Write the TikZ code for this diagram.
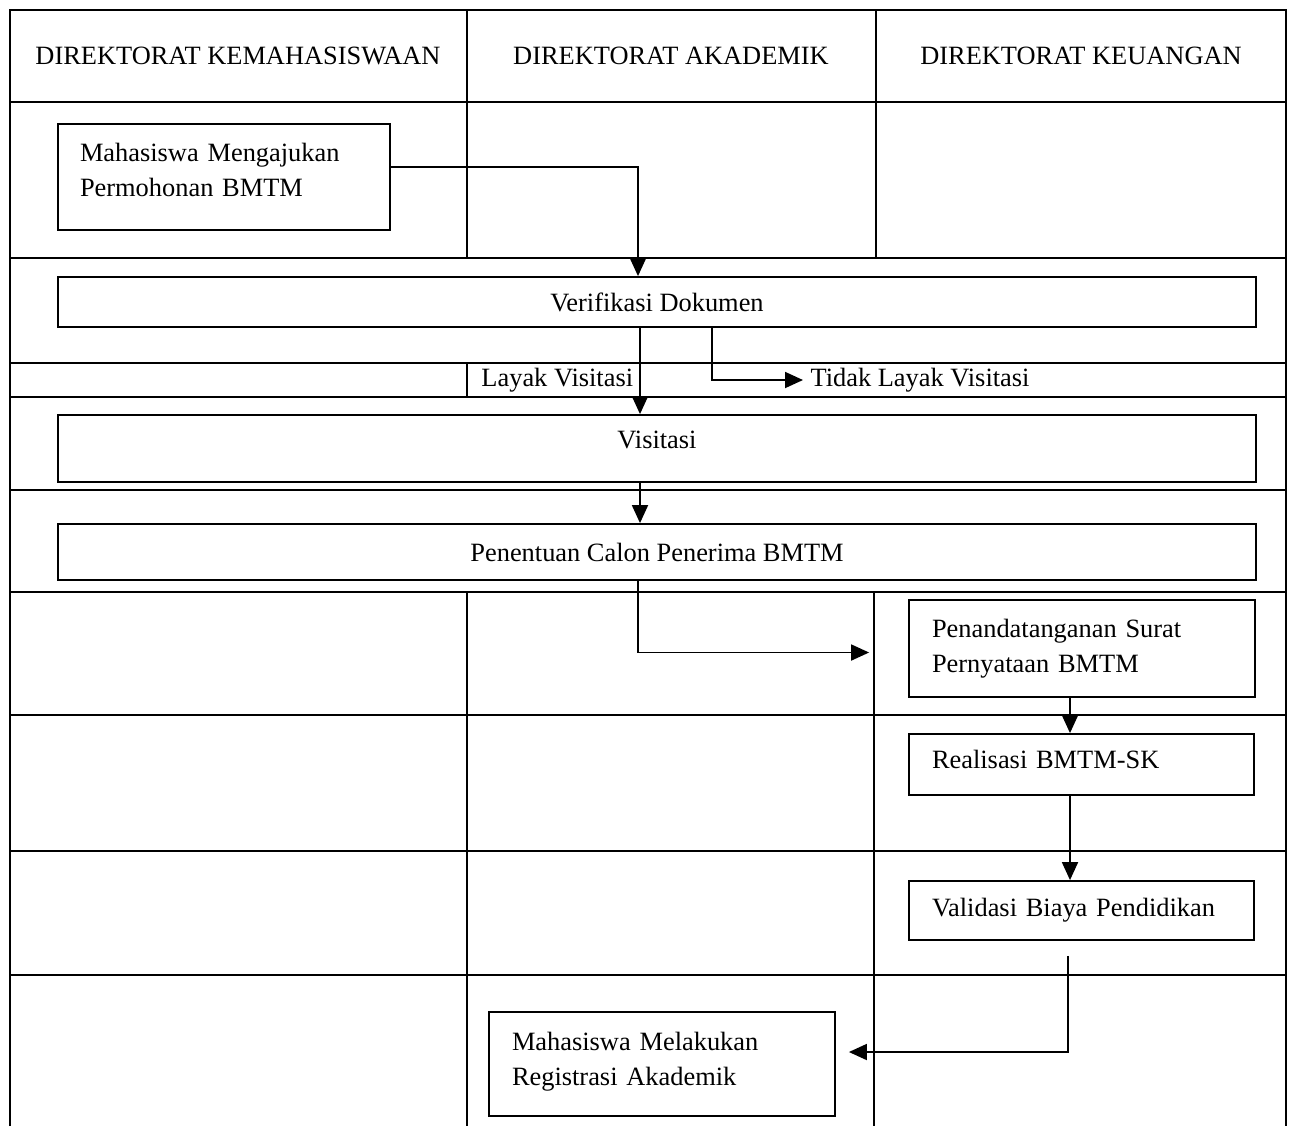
\documentclass[tikz,border=0pt]{standalone}
\usepackage{fontspec}
\setmainfont{Liberation Serif}
\usetikzlibrary{arrows.meta}
\begin{document}
\begin{tikzpicture}[x=0.5pt,y=-0.5pt,line width=0.9pt,
	every node/.style={font=\fontsize{13.2}{17.5}\selectfont},
	box/.style={draw,line width=0.9pt,inner sep=0pt},
	lbox/.style={box,align=left,inner xsep=11.5pt},
	arr/.style={-{Triangle[length=9pt,width=8pt]}}]
	\useasboundingbox (0,0) rectangle (1290,1126);
	% tabel
	\draw (10,1126)--(10,10)--(1286,10)--(1286,1126);
	\foreach \y in {102,258,363,397,490,592,715,851,975}
		\draw (10,\y)--(1286,\y);
	\draw (467,10)--(467,258) (876,10)--(876,258);
	\draw (467,363)--(467,397);
	\draw (467,592)--(467,1126) (874,592)--(874,1126);
	\node (kmhs) at (238,56) {DIREKTORAT KEMAHASISWAAN};
	\node (akad) at (671,56) {DIREKTORAT AKADEMIK};
	\node (keu) at (1081,56) {DIREKTORAT KEUANGAN};
	% proses
	\node[lbox,inner xsep=11pt,text width=144pt,minimum height=53pt,text depth=25pt] (ajukan) at (224,177) {Mahasiswa Mengajukan\\Permohonan BMTM};
	\node[box,minimum width=599pt,minimum height=25pt] (verif) at (657,302) {Verifikasi Dokumen};
	\node[box,minimum width=599pt,minimum height=33.5pt,text depth=9pt] (visit) at (657,448.5) {Visitasi};
	\node[box,minimum width=599pt,minimum height=28pt] (calon) at (657,552) {Penentuan Calon Penerima BMTM};
	\node[lbox,text width=150pt,minimum height=48.5pt] (ttd) at (1082,648.5) {Penandatanganan Surat\\Pernyataan BMTM};
	\node[lbox,text width=149.5pt,minimum height=30.5pt,text depth=5pt] (real) at (1081.5,764.5) {Realisasi BMTM-SK};
	\node[lbox,text width=149.5pt,minimum height=29.5pt] (valid) at (1081.5,910.5) {Validasi Biaya Pendidikan};
	\node[lbox,text width=150pt,minimum height=52pt,text depth=23pt] (regis) at (662,1064) {Mahasiswa Melakukan\\Registrasi Akademik};
	\node[anchor=east,inner xsep=1pt] (layak) at (636,380) {Layak Visitasi};
	\node[anchor=west] (tidak) at (803,380) {Tidak Layak Visitasi};
	% panah
	\draw[arr] ([yshift=5pt]ajukan.east) -| ([xshift=-9.5pt]verif.north);
	\draw[arr] ([xshift=-8.5pt]verif.south) -- ([xshift=-8.5pt]visit.north);
	\draw[arr] ([xshift=27.5pt]verif.south) |- (tidak.west);
	\draw[arr] ([xshift=-8.5pt]visit.south) -- ([xshift=-8.5pt]calon.north);
	\draw[arr] ([xshift=-9.5pt]calon.south) |- ([xshift=-19.5pt,yshift=-2pt]ttd.west);
	\draw[arr] ([xshift=-6pt]ttd.south) -- ([xshift=-5.75pt]real.north);
	\draw[arr] ([xshift=-5.75pt]real.south) -- ([xshift=-5.75pt]valid.north);
	\draw[arr] ([xshift=-6.75pt,yshift=-7.5pt]valid.south) |- ([xshift=6.5pt,yshift=6pt]regis.east);
\end{tikzpicture}
\end{document}
